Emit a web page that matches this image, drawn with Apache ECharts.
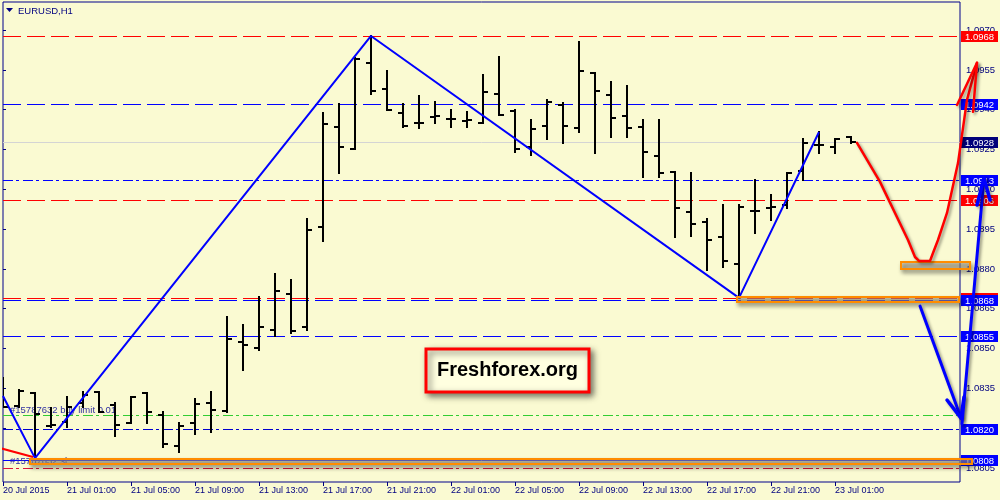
<!DOCTYPE html>
<html><head><meta charset="utf-8">
<script src="https://cdn.jsdelivr.net/npm/echarts@6/dist/echarts.min.js"></script>
<style>html,body{margin:0;padding:0;background:#fafad2}#c{width:1000px;height:500px}</style>
</head><body><div id="c"></div>
<script>
// ---- data ----
const tickBars = [0,4,8,12,16,20,24,28,32,36,40,44,48,52];
const tickLabels = ['20 Jul 2015','21 Jul 01:00','21 Jul 05:00','21 Jul 09:00','21 Jul 13:00','21 Jul 17:00','21 Jul 21:00','22 Jul 01:00','22 Jul 05:00','22 Jul 09:00','22 Jul 13:00','22 Jul 17:00','22 Jul 21:00','23 Jul 01:00'];
const priceTicks = [1.0805,1.0820,1.0835,1.0850,1.0865,1.0880,1.0895,1.0910,1.0925,1.0940,1.0955,1.0970];

const open = [
 1.08363,1.08283,1.08332,1.08208,1.08223,1.08295,1.08336,1.08287,1.08219,1.08332,
 1.08249,1.08133,1.08219,1.08295,1.08265,1.08525,1.08502,1.08570,1.08706,1.08581,
 1.08958,1.09335,1.09252,1.09577,1.09479,1.09388,1.09350,1.09373,1.09365,1.09358,
 1.09350,1.09460,1.09396,1.09260,1.09339,1.09418,1.09331,1.09539,1.09456,1.09377,
 1.09335,1.09226,1.09166,1.09015,1.08977,1.08921,1.08819,1.09019,1.09030,1.09041,
 1.09169,1.09267,1.09260,1.09298];
const high = [
 1.08389,1.08344,1.08332,1.08276,1.08317,1.08336,1.08336,1.08295,1.08317,1.08332,
 1.08261,1.08219,1.08310,1.08336,1.08619,1.08589,1.08694,1.08781,1.08758,1.08988,
 1.09388,1.09422,1.09595,1.09678,1.09546,1.09422,1.09452,1.09430,1.09399,1.09392,
 1.09531,1.09599,1.09399,1.09362,1.09437,1.09426,1.09656,1.09539,1.09505,1.09490,
 1.09362,1.09362,1.09166,1.09162,1.08988,1.09041,1.09041,1.09135,1.09079,1.09162,
 1.09290,1.09316,1.09290,1.09298];
const low = [
 1.08280,1.08280,1.08087,1.08204,1.08204,1.08280,1.08261,1.08170,1.08219,1.08219,
 1.08129,1.08110,1.08178,1.08185,1.08261,1.08419,1.08495,1.08547,1.08559,1.08570,
 1.08905,1.09162,1.09252,1.09460,1.09399,1.09335,1.09331,1.09350,1.09335,1.09335,
 1.09350,1.09380,1.09241,1.09230,1.09290,1.09275,1.09316,1.09237,1.09298,1.09298,
 1.09147,1.09147,1.08921,1.08924,1.08796,1.08807,1.08691,1.08936,1.08985,1.09030,
 1.09135,1.09237,1.09237,1.09275];
const close = [
 1.08280,1.08340,1.08253,1.08212,1.08280,1.08325,1.08261,1.08212,1.08317,1.08261,
 1.08140,1.08208,1.08291,1.08268,1.08536,1.08513,1.08581,1.08717,1.08566,1.08947,
 1.09347,1.09260,1.09592,1.09471,1.09399,1.09339,1.09350,1.09377,1.09365,1.09362,
 1.09467,1.09380,1.09252,1.09328,1.09430,1.09339,1.09546,1.09471,1.09369,1.09331,
 1.09241,1.09162,1.09030,1.08970,1.08909,1.08830,1.09034,1.09019,1.09034,1.09162,
 1.09275,1.09267,1.09290,1.09279];

const zigzagBar = [0,2,23,46,51];
const zigzagPrice = [1.08321,1.08087,1.09678,1.08691,1.09316];

const levelPrice = [1.09678,1.09422,1.09278,1.09134,1.09060,1.08690,1.08683,1.08547,1.08250,1.08197,1.08080,1.08050];

const boxBar1 = [1.6875, 45.875, 56.1];
const boxBar2 = [60.56, 59.75, 60.4];
const boxTop = [1.08085, 1.08695, 1.08825];
const boxBottom = [1.08065, 1.08675, 1.08800];

const redTrendBar = [-0.19, 1.875];
const redTrendPrice = [1.08125, 1.08091];

const redArrowBar = [53.375,54.8125,56.5625,57.0,57.25,57.9375,58.125,58.4375,59.0,59.6875,60.25,60.875];
const redArrowPrice = [1.09275,1.09128,1.08909,1.08845,1.08830,1.08830,1.08860,1.08909,1.09011,1.09199,1.09437,1.09577];
const redHeadBar = [59.625,60.875,60.625];
const redHeadPrice = [1.09418,1.09577,1.09392];

const blueDownBar = [57.3125,59.875];
const blueDownPrice = [1.08660,1.08238];
const blueDownHeadBar = [59.0,59.875,60.0625];
const blueDownHeadPrice = [1.08306,1.08238,1.08317];
const blueUpBar = [59.9375,61.3125];
const blueUpPrice = [1.08216,1.09143];
const blueUpHeadBar = [60.875,61.3125,61.6875];
const blueUpHeadPrice = [1.09041,1.09143,1.09060];

const noteBar = [0,0];
const notePrice = [1.08268,1.08076];
const noteText = ['#15787632 buy limit 0.01','#15787632 sl'];

// ---- styles (kept separate from data) ----
const NAVY = '#000080';
const FONT = '"Liberation Sans", Arial, sans-serif';
const DASH = [18,6], DASHDOT = [10,3,3,4];
const levelStyle = [
 {c:'#ff0000', d:DASH, bg:'#ff0000'},
 {c:'#0000ff', d:DASH, bg:'#0000ff'},
 {c:'#d4d4d4', d:null, bg:'#00007a'},
 {c:'#0000ff', d:DASHDOT, bg:'#0000ff'},
 {c:'#ff0000', d:DASH, bg:'#ff0000'},
 {c:'#ff0000', d:DASH, bg:'#ff0000'},
 {c:'#0000ff', d:DASH, bg:'#0000ff'},
 {c:'#0000ff', d:DASH, bg:'#0000ff'},
 {c:'#32cd32', d:DASHDOT, bg:null},
 {c:'#0000cd', d:DASHDOT, bg:'#0000ff'},
 {c:'#0000ff', d:null, bg:'#0000ff'},
 {c:'#dc143c', d:DASHDOT, bg:null}
];
const zip = (a,b) => a.map((v,i)=>[v,b[i]]);
const shadow = {shadowColor:'rgba(0,0,0,0.4)', shadowBlur:3, shadowOffsetX:2, shadowOffsetY:2};

const chart = echarts.init(document.getElementById('c'), null, {renderer:'canvas'});

function renderLevel(params, api){
  const st = levelStyle[api.value(2)];
  const cs = params.coordSys;
  const y = Math.round(api.coord([0, api.value(1)])[1]) + 0.5;
  const ch = [{type:'line', shape:{x1:cs.x, y1:y, x2:cs.x+cs.width, y2:y},
    style:{stroke:st.c, fill:null, lineWidth:1, lineDash:st.d || null, opacity:1}}];
  if (st.bg){
    const x0 = cs.x + cs.width + 1;
    const top = Math.round(y-6);
    ch.push({type:'rect', shape:{x:x0, y:top, width:37, height:11}, style:{fill:st.bg, stroke:null}});
    ch.push({type:'text', x:x0+18.5, y:top+6, style:{text:api.value(1).toFixed(4), fill:'#ffffff',
      font:'9.5px '+FONT, align:'center', verticalAlign:'middle'}});
  }
  return {type:'group', children:ch};
}
function renderBar(params, api){
  const i = api.value(0);
  const o = api.coord([i, api.value(1)]), h = api.coord([i, api.value(2)]);
  const l = api.coord([i, api.value(3)]), c = api.coord([i, api.value(4)]);
  const x = Math.round(h[0]);
  const st = {stroke:'#000000', lineWidth:2};
  const yo = Math.round(o[1]), yc = Math.round(c[1]);
  return {type:'group', children:[
    {type:'line', shape:{x1:x, y1:Math.round(h[1])-1, x2:x, y2:Math.round(l[1])+1}, style:st},
    {type:'line', shape:{x1:x-5, y1:yo, x2:x, y2:yo}, style:st},
    {type:'line', shape:{x1:x, y1:yc, x2:x+5, y2:yc}, style:st}
  ]};
}
function renderBox(params, api){
  const a = api.coord([api.value(0), api.value(1)]);
  const b = api.coord([api.value(2), api.value(3)]);
  return {type:'rect', shape:{x:Math.round(a[0]), y:Math.round(a[1]), width:Math.round(b[0]-a[0]), height:Math.round(b[1]-a[1])},
    style:{fill:'rgba(190,180,160,0.55)', stroke:'#ff8c00', lineWidth:2,
      shadowBlur:4, shadowColor:'rgba(0,0,0,0.45)', shadowOffsetX:2, shadowOffsetY:3}};
}
function renderNote(params, api){
  const p = api.coord([api.value(0), api.value(1)]);
  return {type:'text', x:p[0]+7, y:p[1], style:{text:noteText[params.dataIndex], fill:'#3030a0',
    font:'9.5px '+FONT, verticalAlign:'middle'}};
}
function polySeries(bars, prices, color, width, z){
  return {type:'custom', clip:false, z, silent:true, data:[[bars[0], prices[0]]], encode:{x:0, y:1},
    renderItem:(params, api)=>({type:'polyline',
      shape:{points:bars.map((b,i)=>api.coord([b, prices[i]]))},
      style:Object.assign({stroke:color, fill:null, lineWidth:width, lineCap:'round', lineJoin:'round'}, shadow)})};
}

chart.setOption({
  backgroundColor:'#fafad2',
  animation:false,
  grid:{left:3, right:40, top:2, bottom:18, show:true, borderColor:'#00008b', borderWidth:1,
        backgroundColor:'transparent', containLabel:false, outerBoundsMode:'none'},
  xAxis:{type:'value', min:0, max:59.8125, splitLine:{show:false}, axisLine:{show:false},
    axisTick:{show:true, customValues:tickBars, length:4, lineStyle:{color:NAVY}},
    axisLabel:{customValues:tickBars, formatter:v=>tickLabels[tickBars.indexOf(v)], align:'left',
      margin:4, fontSize:9, fontFamily:'Liberation Sans', color:NAVY}},
  yAxis:{type:'value', position:'right', min:1.07997, max:1.09806, scale:true, splitLine:{show:false},
    axisLine:{show:false},
    axisTick:{show:true, customValues:priceTicks, length:3, lineStyle:{color:NAVY}},
    axisLabel:{customValues:priceTicks, formatter:v=>v.toFixed(4), margin:6, fontSize:9.5,
      fontFamily:'Liberation Sans', color:NAVY}},
  graphic:[
    {type:'polygon', shape:{points:[[6,8],[13,8],[9.5,12]]}, style:{fill:NAVY}, z:10},
    {type:'text', x:18, y:11, style:{text:'EURUSD,H1', font:'9.5px '+FONT, fill:NAVY, verticalAlign:'middle'}, z:10},
    {type:'rect', shape:{x:426, y:349, width:163, height:43}, z:10,
      style:{fill:'#ffffe0', stroke:'#ff0000', lineWidth:3, shadowBlur:6, shadowColor:'rgba(0,0,0,0.5)', shadowOffsetX:3, shadowOffsetY:3}},
    {type:'text', x:507.5, y:370.5, z:11, style:{text:'Freshforex.org', font:'bold 20px '+FONT, fill:'#000000', align:'center', verticalAlign:'middle'}}
  ],
  series:[
    {type:'custom', name:'levels', renderItem:renderLevel, clip:false, z:1, silent:true,
     data:levelPrice.map((p,i)=>[0,p,i]), encode:{x:0, y:1}},
    {type:'custom', name:'notes', renderItem:renderNote, clip:false, z:2, silent:true,
     data:zip(noteBar, notePrice), encode:{x:0, y:1}},
    {type:'custom', name:'EURUSD', renderItem:renderBar, clip:true, z:3, silent:true,
     data:open.map((o,i)=>[i, o, high[i], low[i], close[i]]), encode:{x:0, y:[1,2,3,4]}},
    {type:'line', name:'zigzag', data:zip(zigzagBar, zigzagPrice), symbol:'none', clip:true, z:4,
     lineStyle:{color:'#0000ff', width:2}, silent:true},
    {type:'line', name:'trend', data:zip(redTrendBar, redTrendPrice), symbol:'none', clip:true, z:4,
     lineStyle:{color:'#ff0000', width:2}, silent:true},
    {type:'custom', name:'boxes', renderItem:renderBox, clip:false, z:5, silent:true,
     data:boxTop.map((t,i)=>[boxBar1[i], t, boxBar2[i], boxBottom[i]]), encode:{x:[0,2], y:[1,3]}},
    polySeries(redArrowBar, redArrowPrice, '#ff0000', 2.5, 6),
    polySeries(redHeadBar, redHeadPrice, '#ff0000', 2.5, 6),
    polySeries(blueDownBar, blueDownPrice, '#0000ff', 3, 6),
    polySeries(blueDownHeadBar, blueDownHeadPrice, '#0000ff', 3.5, 6),
    polySeries(blueUpBar, blueUpPrice, '#0000ff', 3, 6),
    polySeries(blueUpHeadBar, blueUpHeadPrice, '#0000ff', 3.5, 6)
  ]
});
</script></body></html>
